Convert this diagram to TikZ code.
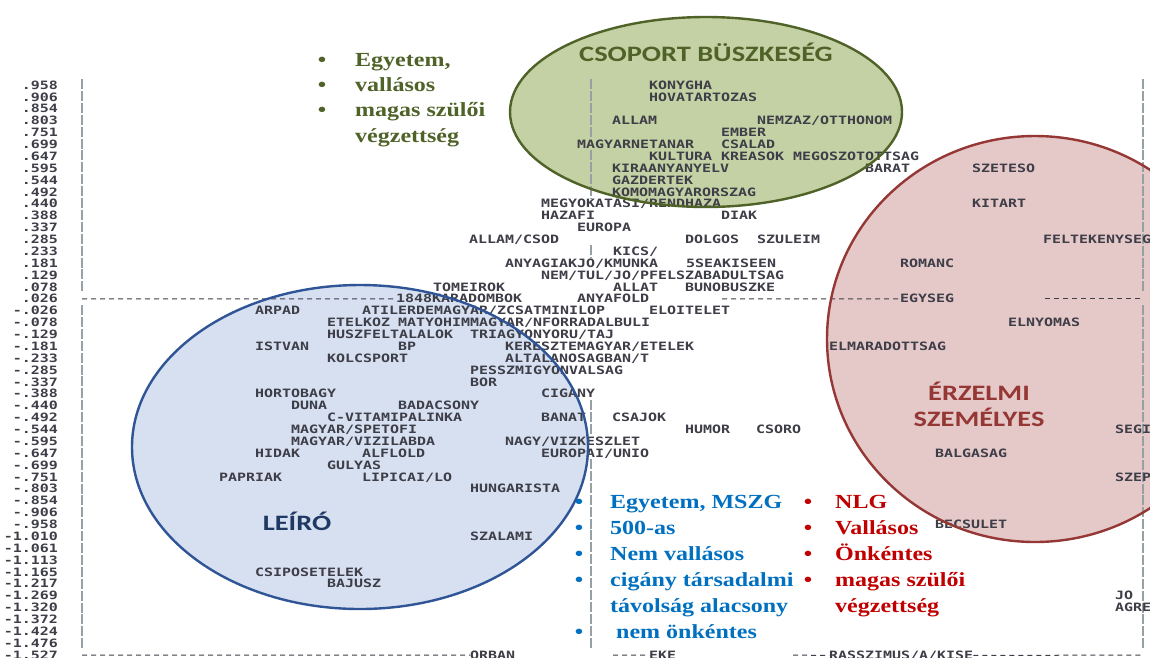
\documentclass[tikz,border=0pt]{standalone}
\usepackage{fontspec}
\newfontfamily\pf{DejaVu Sans Mono}[FakeStretch=1.30]
\newfontfamily\lf{Carlito}[FakeStretch=1.29]
\newfontfamily\tf{Liberation Serif}[FakeStretch=1.2]
\definecolor{gfill}{RGB}{196,209,165}
\definecolor{gline}{RGB}{79,98,40}
\definecolor{bfill}{RGB}{214,224,240}
\definecolor{bline}{RGB}{47,85,151}
\definecolor{rfill}{RGB}{229,200,200}
\definecolor{rline}{RGB}{149,55,53}
\definecolor{wcol}{RGB}{62,62,72}
\definecolor{axcol}{RGB}{150,160,165}
\definecolor{blist}{RGB}{0,112,192}
\definecolor{rlist}{RGB}{192,0,0}
\definecolor{navy}{RGB}{31,56,100}
\newcommand\ry[1]{85+#1*11.875}
\newcommand\pw[4]{\node[wrd] (#1) at (#2,{85+#3*11.875+4.2}) {#4};}
\begin{document}
\begin{tikzpicture}[x=1pt,y=-1pt,
  wrd/.style={font=\pf\bfseries\fontsize{11.5}{12}\selectfont, text=wcol, inner sep=0pt, anchor=base west},
  ax/.style={font=\pf\bfseries\fontsize{11.5}{12}\selectfont, text=wcol, inner sep=0pt, anchor=base east},
  dsh/.style={draw=wcol, line width=1pt, dash pattern=on 5pt off 4pt},
  vax/.style={draw=axcol, line width=1.2pt, dash pattern=on 10pt off 1.9pt},
  tl/.style={font=\tf\bfseries\fontsize{20}{24}\selectfont, inner sep=0pt, anchor=base west},
  bul/.style={font=\tf\bfseries\fontsize{20}{24}\selectfont, inner sep=0pt, anchor=base},
  lab/.style={font=\lf\bfseries\fontsize{22}{26}\selectfont, inner sep=0pt, anchor=base},
  ell/.style={line width=2.4pt}]
\useasboundingbox (0,0) rectangle (1150,657);
\clip (0,0) rectangle (1150,657);
\fill[white] (0,0) rectangle (1150,657);
% ellipse fills
\fill[gfill] (706,112) ellipse [x radius=196, y radius=95];
\fill[bfill] (360,447) ellipse [x radius=228, y radius=162];
\fill[rfill] (1035,339) ellipse [x radius=208, y radius=203];
% axes
\draw[vax] (82,79) -- (82,292);
\draw[vax] (82,305) -- (82,650);
\draw[vax] (1143,79) -- (1143,292);
\draw[vax] (1143,305) -- (1143,650);
\draw[vax] (591,79) -- (591,138);
\draw[vax] (591,150) -- (591,198);
\draw[vax] (591,245) -- (591,257);
\draw[vax] (591,400) -- (591,435);
\draw[vax] (591,459) -- (591,648);
\foreach \v [count=\i from 0] in {.958,.906,.854,.803,.751,.699,.647,.595,.544,.492,.440,.388,.337,.285,.233,.181,.129,.078,.026,-.026,-.078,-.129,-.181,-.233,-.285,-.337,-.388,-.440,-.492,-.544,-.595,-.647,-.699,-.751,-.803,-.854,-.906,-.958,-1.010,-1.061,-1.113,-1.165,-1.217,-1.269,-1.320,-1.372,-1.424,-1.476,-1.527}
  {\node[ax] (ax\i) at (58,{85+\i*11.875+4.2}) {\v};}
% words
\pw{konygha}{649}{0}{KONYGHA}
\pw{hova}{649}{1}{HOVATARTOZAS}
\pw{allam}{612}{3}{ALLAM}
\pw{nemzaz}{757}{3}{NEMZAZ/OTTHONOM}
\pw{ember}{721}{4}{EMBER}
\pw{magyarnet}{577}{5}{MAGYARNETANAR}
\pw{csalad}{721}{5}{CSALAD}
\pw{kultura}{649}{6}{KULTURA}
\pw{kreasok}{721}{6}{KREASOK}
\pw{megosz}{793}{6}{MEGOSZOTOTTSAG}
\pw{kiraany}{612}{7}{KIRAANYANYELV}
\pw{barat}{865}{7}{BARAT}
\pw{szeteso}{972}{7}{SZETESO}
\pw{gazd}{612}{8}{GAZDERTEK}
\pw{komo}{612}{9}{KOMOMAGYARORSZAG}
\pw{megyok}{541}{10}{MEGYOKATASI/RENDHAZA}
\pw{kitart}{972}{10}{KITART}
\pw{hazafi}{541}{11}{HAZAFI}
\pw{diak}{721}{11}{DIAK}
\pw{europa}{577}{12}{EUROPA}
\pw{allamcsod}{469}{13}{ALLAM/CSOD}
\pw{dolgos}{685}{13}{DOLGOS}
\pw{szuleim}{757}{13}{SZULEIM}
\pw{feltek}{1043}{13}{FELTEKENYSEG}
\pw{kics}{613}{14}{KICS/}
\pw{anyagi}{505}{15}{ANYAGIAKJO/KMUNKA}
\pw{sseak}{686}{15}{5SEAKISEEN}
\pw{romanc}{900}{15}{ROMANC}
\pw{nemtul}{541}{16}{NEM/TUL/JO/PFELSZABADULTSAG}
\pw{tomeirok}{433}{17}{TOMEIROK}
\pw{allat}{613}{17}{ALLAT}
\pw{bunob}{685}{17}{BUNOBUSZKE}
\pw{karad}{396}{18}{1848KARADOMBOK}
\pw{anyafold}{577}{18}{ANYAFOLD}
\pw{egyseg}{900}{18}{EGYSEG}
\pw{arpad}{255}{19}{ARPAD}
\pw{atiler}{362}{19}{ATILERDEMAGYAR/ZCSATMINILOP}
\pw{eloit}{649}{19}{ELOITELET}
\pw{etelkoz}{327}{20}{ETELKOZ}
\pw{matyo}{398}{20}{MATYOHIMMAGYAR/NFORRADALBULI}
\pw{elnyomas}{1008}{20}{ELNYOMAS}
\pw{huszf}{327}{21}{HUSZFELTALALOK}
\pw{triagy}{470}{21}{TRIAGYONYORU/TAJ}
\pw{istvan}{255}{22}{ISTVAN}
\pw{bp}{398}{22}{BP}
\pw{kereszt}{505}{22}{KERESZTEMAGYAR/ETELEK}
\pw{elmarad}{829}{22}{ELMARADOTTSAG}
\pw{kolcs}{327}{23}{KOLCSPORT}
\pw{altal}{505}{23}{ALTALANOSAGBAN/T}
\pw{pessz}{470}{24}{PESSZMIGYONVALSAG}
\pw{bor}{470}{25}{BOR}
\pw{hortob}{255}{26}{HORTOBAGY}
\pw{cigany}{541}{26}{CIGANY}
\pw{duna}{291}{27}{DUNA}
\pw{badacs}{398}{27}{BADACSONY}
\pw{cvit}{327}{28}{C-VITAMIPALINKA}
\pw{banat}{541}{28}{BANAT}
\pw{csajok}{612}{28}{CSAJOK}
\pw{mspet}{291}{29}{MAGYAR/SPETOFI}
\pw{humor}{685}{29}{HUMOR}
\pw{csoro}{756}{29}{CSORO}
\pw{segi}{1115}{29}{SEGI}
\pw{mviz}{291}{30}{MAGYAR/VIZILABDA}
\pw{nagyviz}{505}{30}{NAGY/VIZKESZLET}
\pw{hidak}{255}{31}{HIDAK}
\pw{alflold}{362}{31}{ALFLOLD}
\pw{eunio}{541}{31}{EUROPAI/UNIO}
\pw{balgasag}{935}{31}{BALGASAG}
\pw{gulyas}{327}{32}{GULYAS}
\pw{papriak}{219}{33}{PAPRIAK}
\pw{lipicai}{362}{33}{LIPICAI/LO}
\pw{szep}{1115}{33}{SZEP}
\pw{hungar}{470}{34}{HUNGARISTA}
\pw{becsulet}{935}{37}{BECSULET}
\pw{szalami}{470}{38}{SZALAMI}
\pw{csipos}{255}{41}{CSIPOSETELEK}
\pw{bajusz}{327}{42}{BAJUSZ}
\pw{jo}{1115}{43}{JO}
\pw{agre}{1115}{44}{AGRE}
\pw{orban}{470}{48}{ORBAN}
\pw{eke}{649}{48}{EKE}
\pw{rassz}{829}{48}{RASSZIMUS/A/KISE}
% dashed rows
\draw[dsh] (82,{\ry{18}}) -- (karad.west);
\draw[dsh] (722,{\ry{18}}) -- (egyseg.west);
\draw[dsh] (1045,{\ry{18}}) -- (1143,{\ry{18}});
\draw[dsh] (82,{\ry{48}}) -- (orban.west);
\draw[dsh] (613,{\ry{48}}) -- (eke.west);
\draw[dsh] (793,{\ry{48}}) -- (rassz.west);
\draw[dsh] (rassz.east) -- (1143,{\ry{48}});
% ellipse outlines
\draw[ell, gline] (706,112) ellipse [x radius=196, y radius=95];
\draw[ell, bline] (360,447) ellipse [x radius=228, y radius=162];
\draw[ell, rline] (1035,339) ellipse [x radius=208, y radius=203];
% ellipse labels
\node[lab, text=gline] (csop) at (706,61) {CSOPORT BÜSZKESÉG};
\node[lab, text=navy] (leiro) at (297,530) {LEÍRÓ};
\node[lab, text=rline] (erz) at (979,400) {ÉRZELMI};
\node[lab, text=rline] (szem) at (979,426) {SZEMÉLYES};
% green list
\node[bul, text=gline] (gb1) at (322,66) {•};
\node[bul, text=gline] (gb2) at (322,91) {•};
\node[bul, text=gline] (gb3) at (322,116) {•};
\node[tl, text=gline] (g1) at (355,66) {Egyetem,};
\node[tl, text=gline] (g2) at (355,91) {vallásos};
\node[tl, text=gline] (g3) at (355,116) {magas szülői};
\node[tl, text=gline] (g4) at (355,142) {végzettség};
% blue list
\node[bul, text=blist] (bb1) at (579,508) {•};
\node[bul, text=blist] (bb2) at (579,534) {•};
\node[bul, text=blist] (bb3) at (579,560) {•};
\node[bul, text=blist] (bb4) at (579,586) {•};
\node[bul, text=blist] (bb6) at (579,638) {•};
\node[tl, text=blist] (b1) at (610,508) {Egyetem, MSZG};
\node[tl, text=blist] (b2) at (610,534) {500-as};
\node[tl, text=blist] (b3) at (610,560) {Nem vallásos};
\node[tl, text=blist] (b4) at (610,586) {cigány társadalmi};
\node[tl, text=blist] (b5) at (610,612) {távolság alacsony};
\node[tl, text=blist] (b6) at (616,638) {nem önkéntes};
% red list
\node[bul, text=rlist] (rb1) at (808,508) {•};
\node[bul, text=rlist] (rb2) at (808,534) {•};
\node[bul, text=rlist] (rb3) at (808,560) {•};
\node[bul, text=rlist] (rb4) at (808,586) {•};
\node[tl, text=rlist] (r1) at (835,508) {NLG};
\node[tl, text=rlist] (r2) at (835,534) {Vallásos};
\node[tl, text=rlist] (r3) at (835,560) {Önkéntes};
\node[tl, text=rlist] (r4) at (835,586) {magas szülői};
\node[tl, text=rlist] (r5) at (835,612) {végzettség};
\end{tikzpicture}
\end{document}
